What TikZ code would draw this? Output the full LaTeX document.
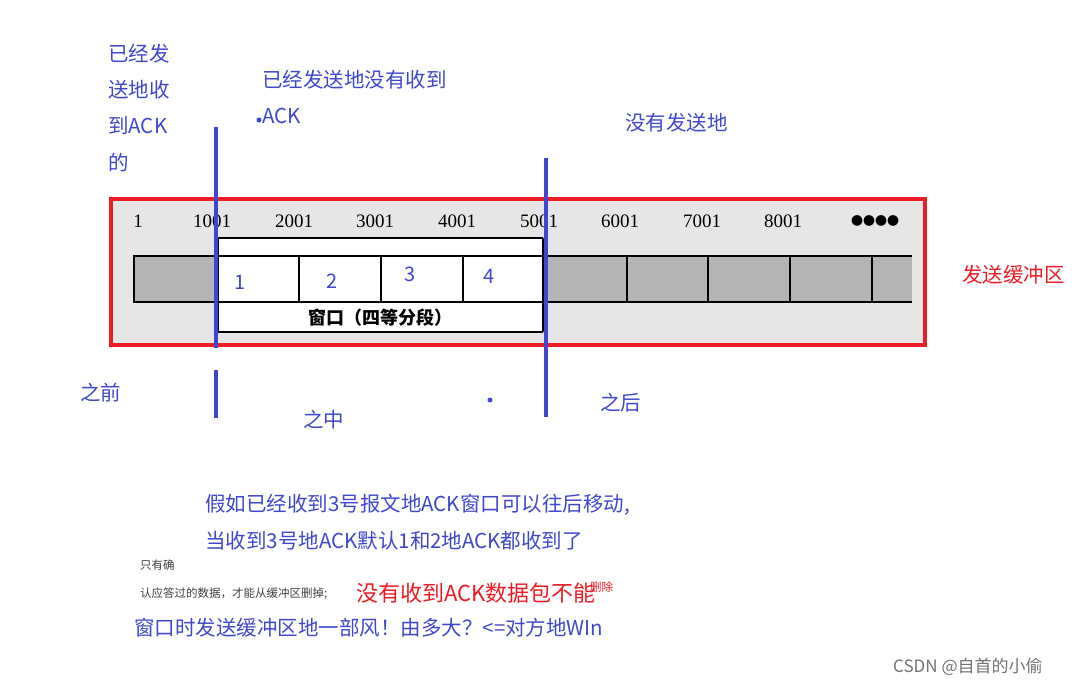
\documentclass[tikz,border=0pt]{standalone}
\usepackage{fontspec}
\setmainfont{Noto Sans CJK SC}
\newfontfamily\serifcjk{Noto Sans CJK SC}
\newfontfamily\numfont{Liberation Serif}
\definecolor{bl}{HTML}{3F48CC}
\definecolor{rd}{HTML}{ED1C24}
\definecolor{gr}{HTML}{B4B4B4}
\definecolor{bg}{HTML}{E6E6E6}
\begin{document}
\begin{tikzpicture}[x=1pt,y=-1pt,
  bt/.style={text=bl,font=\fontsize{20.5}{24}\selectfont,anchor=west,inner sep=0pt},
  num/.style={font=\numfont\fontsize{19}{21}\selectfont,inner sep=0pt},
  dig/.style={text=bl,font=\fontsize{20}{22}\selectfont,inner sep=0pt},
  sm/.style={text=black!75,font=\fontsize{11.5}{13}\selectfont,anchor=west,inner sep=0pt},
  vl/.style={draw=bl,line width=3.5pt},
  cell/.style={draw=black,line width=1.6pt}]
\useasboundingbox (0,0) rectangle (1081,686);
\fill[white] (0,0) rectangle (1081,686);
% buffer
\fill[bg] (113,201) rectangle (923,343);
\fill[white] (218,238) rectangle (543,332);
\fill[gr] (134,256) rectangle (218,302);
\fill[gr] (543,256) rectangle (912,302);
\draw[cell] (912,256) -- (134,256) -- (134,302) -- (912,302);
\foreach \x in {218,299,381,463,543,627,708,790,872} \draw[cell] (\x,256) -- (\x,302);
\draw[cell] (218,238) -- (543,238);
\draw[cell] (218,332) -- (543,332);
\draw[cell] (218,238) -- (218,332);
\draw[cell] (543,238) -- (543,332);
\foreach \x/\t [count=\i] in {138/1,212/1001,294/2001,375/3001,457/4001,539/5001,620/6001,702/7001,783/8001}
  \node[num] (n\i) at (\x,221) {\t};
\node[font=\fontsize{12}{12}\selectfont,inner sep=0pt] (dots) at (875,221) {●●●●};
\node[font=\serifcjk\bfseries\fontsize{18}{20}\selectfont,inner sep=0pt] (win) at (380,318) {窗口（四等分段）};
\node[dig] (d1) at (240,282) {1};
\node[dig] (d2) at (332,281) {2};
\node[dig] (d3) at (410,274) {3};
\node[dig] (d4) at (489,276) {4};
\draw[draw=rd,line width=4pt] (111,199) rectangle (925,345);
% blue lines
\draw[vl] (216,127) -- (216,348);
\draw[vl] (216,370) -- (216,418);
\draw[vl] (546,158) -- (546,417);
% texts
\node[bt] (t1) at (108,54) {已经发};
\node[bt] (t2) at (108,90) {送地收};
\node[bt] (t3) at (108,126) {到ACK};
\node[bt] (t4) at (108,162) {的};
\node[bt] (t5) at (262,80) {已经发送地没有收到};
\node[bt] (t6) at (262,116) {ACK};
\fill[bl] (259,120) circle (2.5);
\node[bt] (t7) at (625,123) {没有发送地};
\node[bt] (t8) at (80,393) {之前};
\node[bt] (t9) at (303,420) {之中};
\node[bt] (t10) at (600,403) {之后};
\fill[bl] (490,400) circle (2.5);
\node[bt,text=rd] (t11) at (962,275) {发送缓冲区};
\node[bt] (b1) at (205,505) {假如已经收到3号报文地ACK窗口可以往后移动,};
\node[bt] (b2) at (205,541) {当收到3号地ACK默认1和2地ACK都收到了};
\node[sm] (s1) at (140,565) {只有确};
\node[sm] (s2) at (140,594) {认应答过的数据，才能从缓冲区删掉;};
\node[bt,text=rd,font=\fontsize{22}{24}\selectfont] (r1) at (356,593) {没有收到ACK数据包不能};
\node[sm,text=rd] (r2) at (590,587) {删除};
\node[bt] (b3) at (134,628) {窗口时发送缓冲区地一部风！由多大？<=对方地WIn};
\node[anchor=west,inner sep=0pt,text=black!55,font=\fontsize{17}{19}\selectfont] (csdn) at (893,667) {CSDN @自首的小偷};
\end{tikzpicture}
\end{document}
